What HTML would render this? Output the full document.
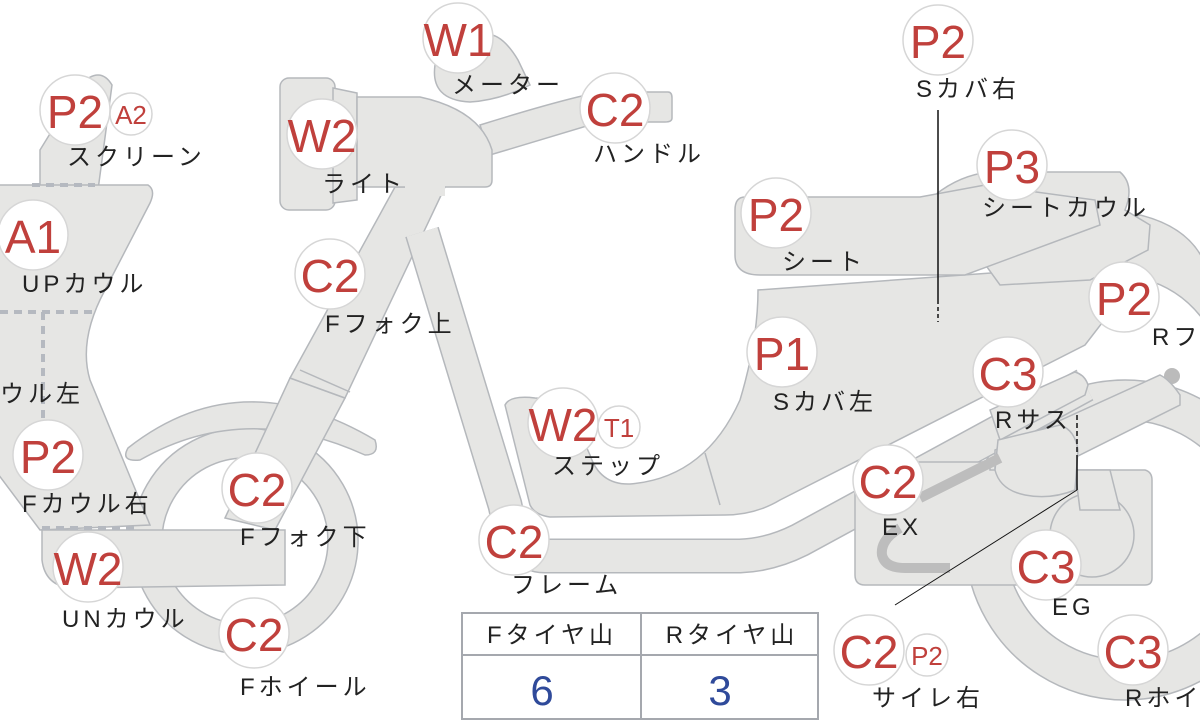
<!DOCTYPE html>
<html><head><meta charset="utf-8"><style>
html,body{margin:0;padding:0;background:#fff;width:1200px;height:720px;overflow:hidden}
svg{display:block}
.s{fill:#e6e6e4;stroke:#b5b8bc;stroke-width:1.5}
.b{fill:#fff;stroke:#d6d6d6;stroke-width:1.5}
.bt{font-family:"Liberation Sans",sans-serif;fill:#c0403c;text-anchor:middle}
.l{font-family:"Liberation Sans","Noto Sans CJK JP",sans-serif;font-size:24px;fill:#222;letter-spacing:4px}
</style></head><body>
<svg width="1200" height="720" viewBox="0 0 1200 720" xmlns="http://www.w3.org/2000/svg">
<path class="s" fill-rule="evenodd" d="M1125,380 a160,160 0 1,0 0.1,0 Z M1125,420 a120,120 0 1,1 -0.1,0 Z"/>
<path class="s" d="M1090,230 L1140,215 Q1200,230 1210,280 L1210,330 Q1180,280 1120,275 Z"/>
<path class="s" fill-rule="evenodd" d="M245,428 a113,113 0 1,0 0.1,0 Z M245,458 a83,83 0 1,1 -0.1,0 Z"/>
<path class="s" d="M128,448 Q240,360 375,440 Q380,455 365,455 Q245,400 140,460 Q120,462 128,448 Z"/>
<path class="s" d="M225,518 L290,378 L345,398 L275,530 Z"/>
<path class="s" d="M290,378 L395,187 L445,187 L345,398 Z"/>
<line x1="300" y1="370" x2="350" y2="392" stroke="#b5b8bc" stroke-width="1.5"/>
<path class="s" d="M40,150 L80,85 Q100,65 112,85 L98,190 L40,190 Z"/>
<path class="s" d="M-5,185 L148,185 Q156,190 150,203 L105,290 Q78,340 90,380 L150,525 L40,530 L-5,470 Z"/>
<path class="s" d="M42,530 L285,530 L285,585 L70,588 Q45,585 42,560 Z"/>
<g stroke="#b5b9c0" stroke-width="4" stroke-dasharray="8,6" fill="none">
<line x1="32" y1="185" x2="95" y2="185"/>
<line x1="0" y1="312" x2="92" y2="312"/>
<line x1="43" y1="312" x2="43" y2="445"/>
<line x1="42" y1="528" x2="135" y2="528"/>
</g>
<path class="s" d="M435,65 Q450,40 482,35 Q500,30 518,60 L530,85 Q500,100 470,102 Q430,100 435,65 Z"/>
<path class="s" d="M480,125 Q560,100 600,92 L668,92 Q672,92 672,98 L672,118 Q672,122 665,122 L600,122 L490,155 Z"/>
<rect class="s" x="280" y="78" width="55" height="132" rx="9"/>
<path class="s" d="M333,88 L357,93 L357,200 L333,203 Z"/>
<path class="s" d="M357,97 L420,97 Q480,110 492,150 L492,180 Q492,187 485,187 L357,187 Z"/>
<path d="M422,232 L505,505 Q515,556 545,556 L740,556 Q770,555 800,540 L1085,385" fill="none" stroke="#b5b8bc" stroke-width="35" stroke-linejoin="round"/>
<path d="M422,232 L505,505 Q515,556 545,556 L740,556 Q770,555 800,540 L1085,385" fill="none" stroke="#e6e6e4" stroke-width="32" stroke-linejoin="round"/>
<rect x="405" y="186" width="40" height="10" fill="#e6e6e4"/>
<path class="s" d="M505,405 Q510,395 535,398 L565,400 L590,455 Q600,485 630,484 Q705,478 740,400 Q758,340 758,290 L1100,265 L1112,310 L1085,345 L780,500 Q755,515 725,515 L550,517 Q535,515 530,505 Z"/>
<line x1="705" y1="453" x2="720" y2="505" stroke="#b5b8bc" stroke-width="1.5"/>
<path class="s" d="M935,195 Q960,175 990,172 L1120,172 Q1135,185 1125,210 L1150,225 L1148,250 L1090,280 L1000,285 Z"/>
<path class="s" d="M745,197 L920,197 L985,185 L1095,200 L1100,225 L965,275 L760,275 Q735,275 735,255 L735,210 Q735,197 745,197 Z"/>
<path class="s" d="M990,410 L1075,372 Q1085,375 1088,385 L1085,395 L1000,440 Z"/>
<circle cx="1172" cy="376" r="8" fill="#bbb"/>
<path class="s" d="M995,450 L1160,375 Q1170,380 1180,395 L1180,405 L1030,480 L995,475 Z"/>
<path class="s" d="M855,470 Q855,462 865,462 L990,462 L990,470 L1145,470 Q1152,472 1152,480 L1152,578 Q1152,585 1145,585 L865,585 Q855,585 855,575 Z"/>
<circle class="s" cx="1092" cy="535" r="42"/>
<path class="s" d="M1075,470 L1110,470 L1120,510 L1080,510 Z"/>
<path class="s" d="M998,440 L1060,425 Q1075,430 1078,450 L1075,490 Q1050,500 1025,495 Q1000,490 995,470 Z"/>
<path d="M1000,458 L920,498 M900,528 Q880,540 882,555 Q885,568 905,568 L950,568" fill="none" stroke="#bdbdbd" stroke-width="10"/>
<line x1="938" y1="110" x2="938" y2="300" stroke="#111" stroke-width="1.5"/>
<line x1="938" y1="300" x2="938" y2="322" stroke="#111" stroke-width="1.5" stroke-dasharray="4,3"/>
<line x1="1077" y1="415" x2="1077" y2="458" stroke="#111" stroke-width="1.5" stroke-dasharray="5,3"/>
<line x1="1077" y1="458" x2="1077" y2="490" stroke="#111" stroke-width="1.5"/>
<line x1="1077" y1="490" x2="895" y2="605" stroke="#111" stroke-width="1"/>
<rect x="462" y="613" width="356" height="106" fill="#fff" stroke="#a5a8ae" stroke-width="2"/>
<line x1="462" y1="655" x2="818" y2="655" stroke="#a5a8ae" stroke-width="2"/>
<line x1="641" y1="613" x2="641" y2="719" stroke="#a5a8ae" stroke-width="2"/>
<text class="l" x="552" y="643" text-anchor="middle">Fタイヤ山</text>
<text class="l" x="732" y="643" text-anchor="middle">Rタイヤ山</text>
<text x="542" y="705" text-anchor="middle" font-family="Liberation Sans,sans-serif" font-size="42" fill="#2f4a9a">6</text>
<text x="720" y="705" text-anchor="middle" font-family="Liberation Sans,sans-serif" font-size="42" fill="#2f4a9a">3</text>
<g>
<circle class="b" cx="458" cy="38" r="35"/><text class="bt" x="458" y="56" font-size="46">W1</text>
<circle class="b" cx="615" cy="108" r="35"/><text class="bt" x="615" y="126" font-size="46">C2</text>
<circle class="b" cx="938" cy="40" r="35"/><text class="bt" x="938" y="58" font-size="46">P2</text>
<circle class="b" cx="75" cy="110" r="35"/><text class="bt" x="75" y="128" font-size="46">P2</text>
<circle class="b" cx="131" cy="114" r="21"/><text class="bt" x="131" y="124" font-size="26">A2</text>
<circle class="b" cx="322" cy="134" r="35"/><text class="bt" x="322" y="152" font-size="46">W2</text>
<circle class="b" cx="33" cy="235" r="35"/><text class="bt" x="33" y="253" font-size="46">A1</text>
<circle class="b" cx="330" cy="274" r="35"/><text class="bt" x="330" y="292" font-size="46">C2</text>
<circle class="b" cx="48" cy="455" r="35"/><text class="bt" x="48" y="473" font-size="46">P2</text>
<circle class="b" cx="88" cy="567" r="35"/><text class="bt" x="88" y="585" font-size="46">W2</text>
<circle class="b" cx="257" cy="488" r="35"/><text class="bt" x="257" y="506" font-size="46">C2</text>
<circle class="b" cx="254" cy="633" r="35"/><text class="bt" x="254" y="651" font-size="46">C2</text>
<circle class="b" cx="514" cy="540" r="35"/><text class="bt" x="514" y="558" font-size="46">C2</text>
<circle class="b" cx="563" cy="423" r="35"/><text class="bt" x="563" y="441" font-size="46">W2</text>
<circle class="b" cx="619" cy="427" r="21"/><text class="bt" x="619" y="437" font-size="26">T1</text>
<circle class="b" cx="776" cy="213" r="35"/><text class="bt" x="776" y="231" font-size="46">P2</text>
<circle class="b" cx="782" cy="352" r="35"/><text class="bt" x="782" y="370" font-size="46">P1</text>
<circle class="b" cx="1012" cy="165" r="35"/><text class="bt" x="1012" y="183" font-size="46">P3</text>
<circle class="b" cx="1124" cy="297" r="35"/><text class="bt" x="1124" y="315" font-size="46">P2</text>
<circle class="b" cx="1008" cy="372" r="35"/><text class="bt" x="1008" y="390" font-size="46">C3</text>
<circle class="b" cx="888" cy="480" r="35"/><text class="bt" x="888" y="498" font-size="46">C2</text>
<circle class="b" cx="1046" cy="565" r="35"/><text class="bt" x="1046" y="583" font-size="46">C3</text>
<circle class="b" cx="869" cy="650" r="35"/><text class="bt" x="869" y="668" font-size="46">C2</text>
<circle class="b" cx="927" cy="655" r="21"/><text class="bt" x="927" y="665" font-size="26">P2</text>
<circle class="b" cx="1133" cy="650" r="35"/><text class="bt" x="1133" y="668" font-size="46">C3</text>
</g>
<g class="l">
<text x="452" y="93">メーター</text>
<text x="593" y="162">ハンドル</text>
<text x="916" y="97">Sカバ右</text>
<text x="67" y="165">スクリーン</text>
<text x="322" y="192">ライト</text>
<text x="22" y="292">UPカウル</text>
<text x="325" y="332">Fフォク上</text>
<text x="0" y="402">ウル左</text>
<text x="22" y="512">Fカウル右</text>
<text x="240" y="545">Fフォク下</text>
<text x="62" y="627">UNカウル</text>
<text x="240" y="695">Fホイール</text>
<text x="511" y="593">フレーム</text>
<text x="552" y="474">ステップ</text>
<text x="782" y="270">シート</text>
<text x="773" y="410">Sカバ左</text>
<text x="982" y="216">シートカウル</text>
<text x="1152" y="345">Rフ</text>
<text x="995" y="428">Rサス</text>
<text x="882" y="535">EX</text>
<text x="1052" y="615">EG</text>
<text x="872" y="706">サイレ右</text>
<text x="1125" y="706">Rホイ</text>
</g>
</svg>
</body></html>
